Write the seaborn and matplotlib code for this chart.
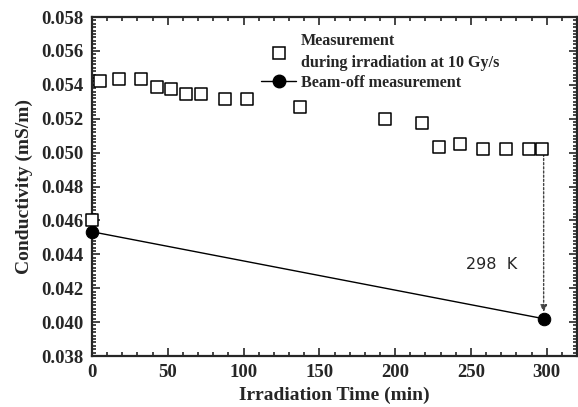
import matplotlib
matplotlib.use("Agg")
import matplotlib.pyplot as plt
import seaborn as sns
import pandas as pd
from matplotlib.ticker import MultipleLocator
from matplotlib.lines import Line2D

# Data
meas_time = [0, 5, 18, 32, 43, 52, 62, 72, 88, 102, 137, 193, 218, 229, 243, 258, 273, 288, 297]
meas_cond = [0.0460, 0.05422, 0.05434, 0.05434, 0.05385, 0.05373, 0.05348, 0.05348, 0.05314, 0.05314,
             0.05271, 0.05196, 0.05176, 0.05031, 0.05051, 0.05021, 0.05021, 0.05021, 0.05021]
off_time = [0, 298]
off_cond = [0.04533, 0.04020]
xticks = [0, 50, 100, 150, 200, 250, 300]
yticks = [0.038, 0.040, 0.042, 0.044, 0.046, 0.048, 0.050, 0.052, 0.054, 0.056, 0.058]

sns.set_style("ticks")
plt.rcParams['font.family'] = ['Liberation Serif', 'DejaVu Serif']

fig = plt.figure(figsize=(5.78, 4.07), dpi=100)
ax = fig.add_axes([92/578, 1-356/407, 485/578, 339/407])

meas = pd.DataFrame({"t": meas_time, "c": meas_cond})
off = pd.DataFrame({"t": off_time, "c": off_cond})

sns.lineplot(data=off, x="t", y="c", ax=ax, color="black", lw=1.0, marker="o",
             markersize=9, markeredgecolor="black", markerfacecolor="black", zorder=3,
             clip_on=False)
sns.scatterplot(data=meas, x="t", y="c", ax=ax, marker="s", s=75, facecolor="white",
                edgecolor="black", linewidth=1.1, zorder=4, clip_on=False)

# dotted arrow
ax.annotate("", xy=(off_time[1], 0.0406), xytext=(off_time[1], 0.0499),
            arrowprops=dict(arrowstyle="-|>", linestyle=(0, (1.5, 1.5)), color="#444444",
                            lw=1.0, mutation_scale=10, shrinkA=0, shrinkB=0))
ax.text(264, 0.0434, "298  K", family="DejaVu Sans", fontsize=11.5, ha="center", va="center")

ax.set_xlim(0, 320)
ax.set_ylim(0.038, 0.058)
ax.set_xticks(xticks)
ax.set_yticks(yticks)
ax.set_xticklabels([str(v) for v in xticks])
ax.set_yticklabels([f"{v:.3f}" for v in yticks])
ax.xaxis.set_minor_locator(MultipleLocator(10))
ax.yaxis.set_minor_locator(MultipleLocator(0.0002))
ax.tick_params(which="both", direction="in", top=True, right=True, width=1.2)
ax.tick_params(which="major", length=6, labelsize=13.5, pad=6)
ax.tick_params(which="minor", length=3)
for lab in ax.get_xticklabels() + ax.get_yticklabels():
    lab.set_fontweight("bold")
for s in ax.spines.values():
    s.set_linewidth(1.6)

ax.set_xlabel("Irradiation Time (min)", fontsize=14, fontweight="bold", labelpad=4)
ax.set_ylabel("Conductivity (mS/m)", fontsize=14, fontweight="bold", labelpad=6)

h1 = Line2D([], [], marker="s", linestyle="none", markersize=8.5, markerfacecolor="white",
            markeredgecolor="black", markeredgewidth=1.1)
h2 = Line2D([], [], marker="o", color="black", lw=1.0, markersize=9)
leg = ax.legend([h1, h2], ["Measurement\nduring irradiation at 10 Gy/s", "Beam-off measurement"],
                loc="upper left", bbox_to_anchor=(0.325, 0.985), frameon=False,
                prop={"family": "Liberation Serif", "weight": "bold", "size": 11.6},
                handlelength=2.2, handletextpad=0.3, labelspacing=0.2, borderpad=0.2)
for t in leg.get_texts():
    t.set_linespacing(1.5)

fig.savefig("out.png", dpi=100)
